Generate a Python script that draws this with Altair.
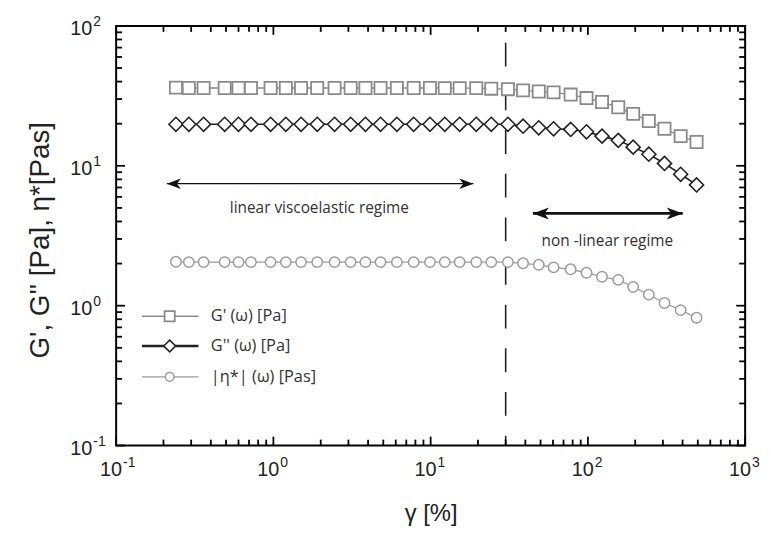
import altair as alt
import pandas as pd

# ---------------- data ----------------
strain = [0.24, 0.29, 0.36, 0.49, 0.60, 0.72, 0.96, 1.2, 1.5, 1.9, 2.45, 3.1, 3.85,
          4.8, 6.1, 7.8, 9.9, 12.3, 15.3, 19.5, 24.3, 31.0, 38.7, 48.7, 60.5, 77.7,
          98, 123, 156, 194, 244, 307, 389, 491]
g_storage = [36.2, 36.0, 36.0, 36.0, 36.0, 36.0, 36.0, 36.0, 36.0, 36.0, 36.0, 36.0,
             36.0, 36.0, 36.0, 36.0, 36.0, 35.9, 35.9, 35.9, 35.6, 35.3, 34.6, 34.0,
             33.5, 32.3, 30.5, 28.6, 26.2, 23.5, 20.9, 18.4, 16.3, 14.8]
g_loss = [19.8, 19.8, 19.8, 19.8, 19.8, 19.8, 19.8, 19.8, 19.8, 19.8, 19.8, 19.8,
          19.8, 19.8, 19.8, 19.8, 19.8, 19.8, 19.8, 19.8, 19.8, 19.8, 19.2, 18.7,
          18.4, 18.2, 17.5, 16.3, 15.2, 13.6, 12.1, 10.4, 8.7, 7.3]
eta_star = [2.06, 2.05, 2.05, 2.05, 2.05, 2.05, 2.05, 2.05, 2.05, 2.05, 2.05, 2.05,
            2.05, 2.05, 2.05, 2.05, 2.05, 2.05, 2.05, 2.05, 2.05, 2.05, 2.01, 1.96,
            1.88, 1.82, 1.72, 1.61, 1.53, 1.36, 1.20, 1.045, 0.93, 0.82]

series_labels = ["G' (ω) [Pa]", "G'' (ω) [Pa]", "|η*| (ω) [Pas]"]
x_decades = [0.1, 1, 10, 100, 1000]
x_exponents = ["-1", "0", "1", "2", "3"]
y_decades = [0.1, 1, 10, 100]
y_exponents = ["-1", "0", "1", "2"]
x_minor = [m * d for d in x_decades[:-1] for m in range(2, 10)]
y_minor = [m * d for d in y_decades[:-1] for m in range(2, 10)]

regime_labels = ["linear viscoelastic regime", "non -linear regime"]

# annotation anchors (data coordinates)
arrow_x1 = [0.21, 44.7]
arrow_x2 = [18.7, 401]
arrow_y = [7.45, 4.57]
label_x = [1.96, 133]
label_y = [4.95, 2.89]
yield_strain = [30]
legend_y = [0.84, 0.515, 0.31]
legend_line_x = [0.146, 0.334]
legend_marker_x = 0.219
legend_text_x = 0.40

# ---------------- styling ----------------
W, H = 634, 423
X_MIN, X_MAX, Y_MIN, Y_MAX = 0.1, 1000, 0.1, 100
PX_PER_DEC_X = W / 4.0
PX_PER_DEC_Y = H / 3.0
FONT = "Liberation Sans"
colors = ["#8a8a8a", "#222222", "#9c9c9c"]
shapes = ["square", "diamond", "circle"]
sizes = [150, 200, 110]
line_w = [1.3, 1.6, 1.3]
legend_line_w = [1.4, 2.6, 1.4]
mark_w = [1.8, 1.6, 1.5]
MINOR_LEN, MAJOR_LEN = 6, 9

xs = alt.Scale(type="log", domain=[X_MIN, X_MAX], nice=False)
ys = alt.Scale(type="log", domain=[Y_MIN, Y_MAX], nice=False)

ax_x = alt.Axis(labels=False, ticks=False, domain=False, grid=False,
                title="γ [%]", titleFont=FONT, titleFontSize=24,
                titleFontWeight="normal", titleColor="#222", titlePadding=57)
ax_y = alt.Axis(labels=False, ticks=False, domain=False, grid=False,
                title="G', G'' [Pa], η*[Pas]", titleFont=FONT, titleFontSize=28,
                titleFontWeight="normal", titleColor="#222",
                titleX=-62, titleY=H / 2 + 4, titleAngle=270, titleAlign="center",
                titleBaseline="bottom")

df = pd.DataFrame({"strain": strain, "s0": g_storage, "s1": g_loss, "s2": eta_star})

layers = []
for i, col in enumerate(["s0", "s1", "s2"]):
    xa = ax_x if i == 0 else None
    ya = ax_y if i == 0 else None
    line = alt.Chart(df).mark_line(color=colors[i], strokeWidth=line_w[i]).encode(
        x=alt.X("strain:Q", scale=xs, axis=xa),
        y=alt.Y(f"{col}:Q", scale=ys, axis=ya),
    )
    pts = alt.Chart(df).mark_point(shape=shapes[i], size=sizes[i], filled=True,
                                   fill="white", stroke=colors[i],
                                   strokeWidth=mark_w[i], opacity=1).encode(
        x=alt.X("strain:Q", scale=xs, axis=None),
        y=alt.Y(f"{col}:Q", scale=ys, axis=None),
    )
    layers += [line, pts]

# inward ticks on all four sides, drawn as tiny two-point line segments
tick_rows = []
tid = 0
for vals, ln in [(x_minor, MINOR_LEN), (x_decades, MAJOR_LEN)]:
    fy = 10 ** (ln / PX_PER_DEC_Y)
    for v in vals:
        for y0, y1 in [(Y_MIN, Y_MIN * fy), (Y_MAX, Y_MAX / fy)]:
            tick_rows += [{"id": tid, "o": 0, "tx": v, "ty": y0},
                          {"id": tid, "o": 1, "tx": v, "ty": y1}]
            tid += 1
for vals, ln in [(y_minor, MINOR_LEN), (y_decades, MAJOR_LEN)]:
    fx = 10 ** (ln / PX_PER_DEC_X)
    for v in vals:
        for x0, x1 in [(X_MIN, X_MIN * fx), (X_MAX, X_MAX / fx)]:
            tick_rows += [{"id": tid, "o": 0, "tx": x0, "ty": v},
                          {"id": tid, "o": 1, "tx": x1, "ty": v}]
            tid += 1
ticks = alt.Chart(pd.DataFrame(tick_rows)).mark_line(
    color="#000000", strokeWidth=1.8, strokeCap="butt").encode(
    x=alt.X("tx:Q", scale=xs, axis=None),
    y=alt.Y("ty:Q", scale=ys, axis=None),
    detail="id:N", order="o:Q")

# tick labels 10^n with real superscripts
xl = pd.DataFrame({"v": x_decades, "e": x_exponents})
yl = pd.DataFrame({"v": y_decades, "e": y_exponents})
label_layers = [
    alt.Chart(xl).mark_text(text="10", font=FONT, fontSize=20, color="#222", align="right",
                            baseline="alphabetic", dx=6).encode(
        x=alt.X("v:Q", scale=xs, axis=None), y=alt.value(H + 31)),
    alt.Chart(xl).mark_text(font=FONT, fontSize=14, color="#222", align="left",
                            baseline="alphabetic", dx=7).encode(
        x=alt.X("v:Q", scale=xs, axis=None), y=alt.value(H + 22), text="e:N"),
    alt.Chart(yl).mark_text(text="10", font=FONT, fontSize=20, color="#222", align="right",
                            baseline="alphabetic", dy=9).encode(
        y=alt.Y("v:Q", scale=ys, axis=None), x=alt.value(-24)),
    alt.Chart(yl).mark_text(font=FONT, fontSize=14, color="#222", align="left",
                            baseline="alphabetic", dy=0).encode(
        y=alt.Y("v:Q", scale=ys, axis=None), x=alt.value(-23), text="e:N"),
]

# dashed vertical line
dash = alt.Chart(pd.DataFrame({"x": yield_strain})).mark_rule(
    color="#222", strokeWidth=1.6, strokeDash=[24, 20], strokeDashOffset=27).encode(
    x=alt.X("x:Q", scale=xs, axis=None))

# arrows
arr_df = pd.DataFrame({"x1": arrow_x1, "x2": arrow_x2, "y": arrow_y})
arrow_w = [1.3, 2.6]
shafts, heads = [], []
left_head = "M -1 0 L 1 -0.75 L 0.45 0 L 1 0.75 Z"
right_head = "M 1 0 L -1 -0.75 L -0.45 0 L -1 0.75 Z"
head_sizes = [200, 260]
for i in range(2):
    sub = arr_df.iloc[[i]]
    shafts.append(alt.Chart(sub).mark_rule(color="#111", strokeWidth=arrow_w[i]).encode(
        x=alt.X("x1:Q", scale=xs, axis=None), x2="x2:Q",
        y=alt.Y("y:Q", scale=ys, axis=None)))
    half = (head_sizes[i] ** 0.5) / 2
    heads.append(alt.Chart(sub).mark_point(shape=left_head, size=head_sizes[i], filled=True,
                                           color="#111", opacity=1, xOffset=half).encode(
        x=alt.X("x1:Q", scale=xs, axis=None), y=alt.Y("y:Q", scale=ys, axis=None)))
    heads.append(alt.Chart(sub).mark_point(shape=right_head, size=head_sizes[i], filled=True,
                                           color="#111", opacity=1, xOffset=-half).encode(
        x=alt.X("x2:Q", scale=xs, axis=None), y=alt.Y("y:Q", scale=ys, axis=None)))

regime_text = alt.Chart(pd.DataFrame({"x": label_x, "y": label_y, "t": regime_labels})).mark_text(
    font="Open Sans", fontSize=15.5, color="#333", baseline="middle", align="center").encode(
    x=alt.X("x:Q", scale=xs, axis=None), y=alt.Y("y:Q", scale=ys, axis=None), text="t:N")

# legend drawn inside the plot
leg_layers = []
for i in range(3):
    ldf = pd.DataFrame({"x1": [legend_line_x[0]], "x2": [legend_line_x[1]],
                        "xm": [legend_marker_x], "xt": [legend_text_x],
                        "y": [legend_y[i]], "t": [series_labels[i]]})
    leg_layers.append(alt.Chart(ldf).mark_rule(color=colors[i], strokeWidth=legend_line_w[i]).encode(
        x=alt.X("x1:Q", scale=xs, axis=None), x2="x2:Q", y=alt.Y("y:Q", scale=ys, axis=None)))
    leg_layers.append(alt.Chart(ldf).mark_point(shape=shapes[i], size=sizes[i] * 0.7, filled=True,
                                                fill="white", stroke=colors[i],
                                                strokeWidth=mark_w[i], opacity=1).encode(
        x=alt.X("xm:Q", scale=xs, axis=None), y=alt.Y("y:Q", scale=ys, axis=None)))
    leg_layers.append(alt.Chart(ldf).mark_text(font="Open Sans", fontSize=16.5, color="#333",
                                               align="left", baseline="middle").encode(
        x=alt.X("xt:Q", scale=xs, axis=None), y=alt.Y("y:Q", scale=ys, axis=None), text="t:N"))

chart = alt.layer(dash, *layers, *shafts, *heads, regime_text, *leg_layers,
                  ticks, *label_layers).resolve_axis(
    x="independent", y="independent"
).properties(
    width=W, height=H,
    autosize=alt.AutoSizeParams(type="none"),
    padding={"left": 109, "top": 16, "right": 18, "bottom": 80},
).configure_view(stroke="black", strokeWidth=2)

chart.save("out.html", embed_options={"renderer": "svg", "actions": False})
